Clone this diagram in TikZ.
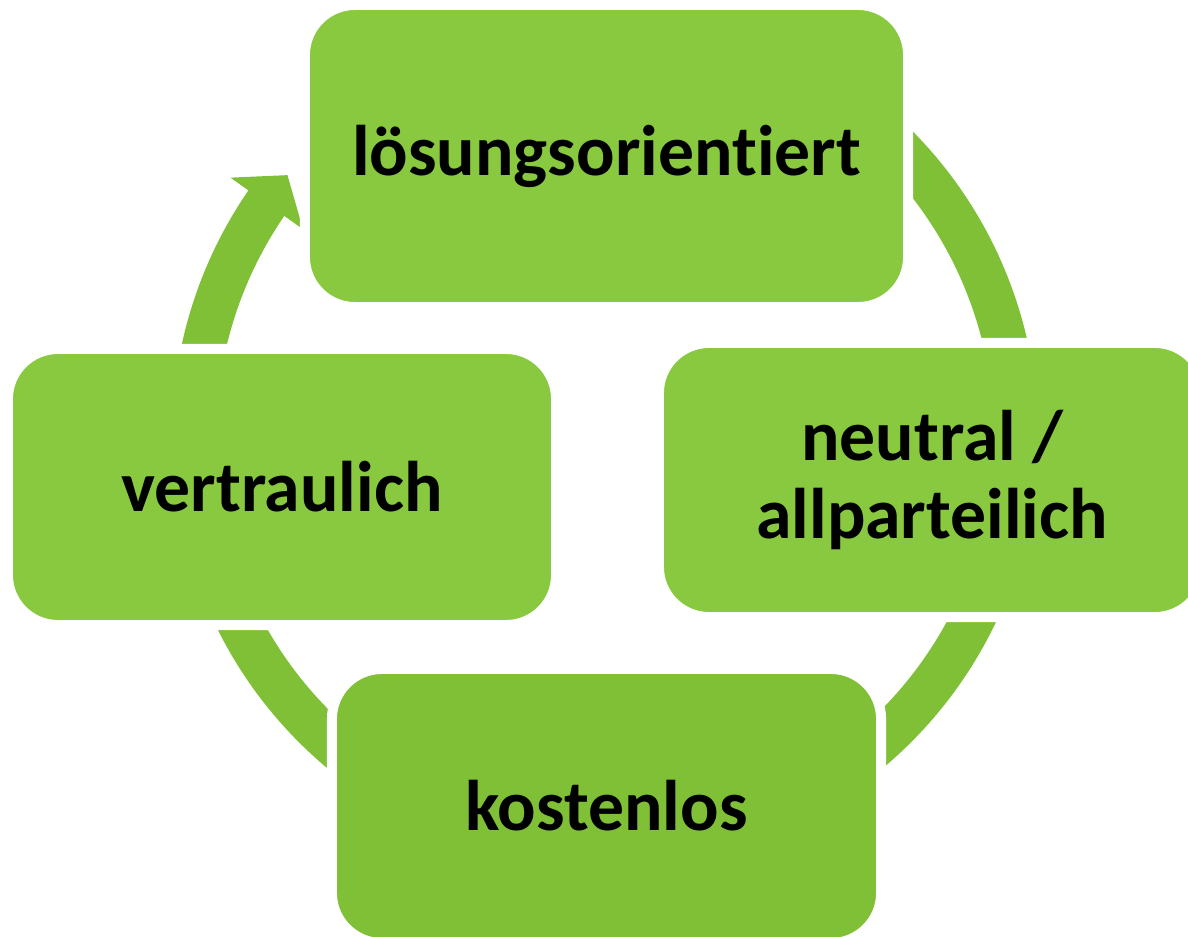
\documentclass[tikz,border=0pt]{standalone}
\usepackage{fontspec}
\setmainfont{Carlito}[Ligatures=NoCommon]
\begin{document}
\begin{tikzpicture}[x=0.025cm,y=-0.025cm,
  boxstyle/.style={rectangle, rounded corners=1.25cm, draw=white, line width=0.25cm,
    inner sep=0pt, align=center, font=\fontsize{51}{55.5}\selectfont\bfseries, text=black},
  ringarc/.style={draw=arccol, line width=1.1cm, line cap=butt},
]
\definecolor{boxcol}{HTML}{88C93F}
\definecolor{boxdark}{HTML}{80C036}
\definecolor{arccol}{HTML}{80C036}
\useasboundingbox (0,0) rectangle (1188,937);
\clip (0,0) rectangle (1188,937);
\coordinate (c) at (605,436);
% ring arcs
\draw[ringarc] plot[domain=175:215,samples=60] ({605+411*cos(\x)},{436+411*sin(\x)});
\fill[arccol] ({605+455*cos(214.6)},{436+455*sin(214.6)}) -- ({605+411*cos(219.4)},{436+411*sin(219.4)}) -- ({605+366*cos(214.4)},{436+366*sin(214.4)}) -- cycle;
\draw[ringarc] plot[domain=290:355,samples=60] ({605+411*cos(\x)},{436+411*sin(\x)});
\draw[ringarc] plot[domain=15:75,samples=60] ({605+411*cos(\x)},{436+411*sin(\x)});
\draw[ringarc] plot[domain=105:165,samples=60] ({605+411*cos(\x)},{436+411*sin(\x)});
% boxes
\node[boxstyle, fill=boxcol, minimum width=15.075cm, minimum height=7.55cm] (top) at (606.5,156) {lösungsorientiert};
\node[boxstyle, fill=boxcol, minimum width=13.65cm, minimum height=6.85cm] (right) at (932,480) {neutral /\\allparteilich};
\node[boxstyle, fill=boxdark, minimum width=13.725cm, minimum height=6.85cm] (bottom) at (606.5,806) {kostenlos};
\node[boxstyle, fill=boxcol, minimum width=13.7cm, minimum height=6.9cm] (left) at (282,487) {vertraulich};
\end{tikzpicture}
\end{document}
